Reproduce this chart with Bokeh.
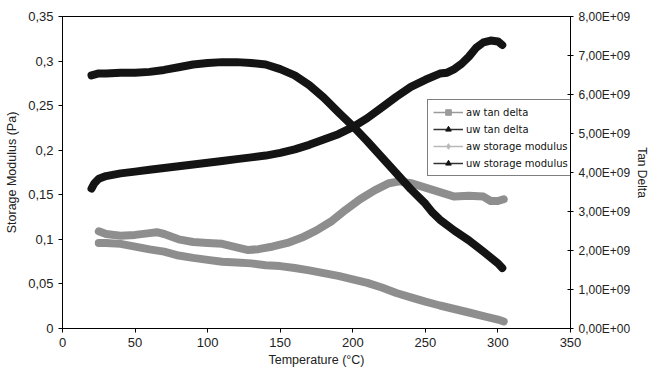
from bokeh.plotting import figure
from bokeh.models import Range1d, LinearAxis, FixedTicker, Legend, LegendItem
from bokeh.embed import file_html
from bokeh.resources import INLINE

# ---------------- data ----------------
# aw tan delta (left axis)
aw_td_T = [25, 30, 40, 50, 60, 65, 70, 80, 90, 100, 110, 120, 128, 135, 145, 155, 165,
           175, 185, 195, 205, 215, 225, 232, 240, 250, 260, 270, 280, 290, 295, 300, 304]
aw_td = [0.109, 0.106, 0.104, 0.105, 0.107, 0.108, 0.106, 0.100, 0.097, 0.096, 0.095, 0.091,
         0.088, 0.089, 0.092, 0.096, 0.102, 0.110, 0.120, 0.133, 0.145, 0.155, 0.163, 0.165,
         0.163, 0.158, 0.153, 0.148, 0.149, 0.148, 0.143, 0.143, 0.145]

# uw tan delta (left axis)
uw_td_T = [20, 22, 25, 30, 40, 50, 60, 70, 80, 90, 100, 110, 120, 130, 140, 150, 160, 170,
           180, 190, 200, 210, 220, 230, 240, 250, 260, 265, 270, 275, 280, 285, 290, 295,
           300, 303]
uw_td = [0.157, 0.163, 0.168, 0.171, 0.174, 0.176, 0.178, 0.180, 0.182, 0.184, 0.186, 0.188,
         0.190, 0.192, 0.194, 0.197, 0.201, 0.206, 0.212, 0.218, 0.226, 0.236, 0.248, 0.260,
         0.271, 0.279, 0.286, 0.287, 0.291, 0.297, 0.305, 0.315, 0.321, 0.323, 0.322, 0.318]

# aw storage modulus (right axis)
aw_sm_T = [25, 30, 40, 50, 60, 70, 80, 90, 100, 110, 120, 130, 140, 150, 160, 170, 180, 190,
           200, 210, 220, 230, 240, 250, 260, 270, 280, 290, 300, 304]
aw_sm = [2.19e9, 2.19e9, 2.17e9, 2.10e9, 2.03e9, 1.97e9, 1.87e9, 1.81e9, 1.76e9, 1.71e9,
         1.69e9, 1.67e9, 1.62e9, 1.60e9, 1.55e9, 1.49e9, 1.42e9, 1.35e9, 1.26e9, 1.17e9,
         1.05e9, 0.91e9, 0.80e9, 0.69e9, 0.59e9, 0.50e9, 0.41e9, 0.32e9, 0.23e9, 0.18e9]

# uw storage modulus (right axis)
uw_sm_T = [20, 25, 30, 40, 50, 60, 70, 80, 90, 100, 110, 120, 130, 140, 150, 160, 170, 180,
           190, 200, 210, 220, 230, 240, 250, 255, 260, 270, 280, 290, 300, 303]
uw_sm = [6.49e9, 6.54e9, 6.54e9, 6.56e9, 6.56e9, 6.58e9, 6.63e9, 6.70e9, 6.77e9, 6.81e9,
         6.83e9, 6.83e9, 6.81e9, 6.77e9, 6.65e9, 6.49e9, 6.24e9, 5.92e9, 5.55e9, 5.19e9,
         4.80e9, 4.39e9, 3.98e9, 3.57e9, 3.20e9, 2.97e9, 2.79e9, 2.51e9, 2.26e9, 1.97e9,
         1.67e9, 1.55e9]

x_ticks = [0, 50, 100, 150, 200, 250, 300, 350]
left_ticks = [0, 0.05, 0.1, 0.15, 0.2, 0.25, 0.3, 0.35]
left_labels = ["0", "0,05", "0,1", "0,15", "0,2", "0,25", "0,3", "0,35"]
right_ticks = [0, 1e9, 2e9, 3e9, 4e9, 5e9, 6e9, 7e9, 8e9]
right_labels = ["0,00E+00", "1,00E+09", "2,00E+09", "3,00E+09", "4,00E+09",
                "5,00E+09", "6,00E+09", "7,00E+09", "8,00E+09"]
series_names = ["aw tan delta", "uw tan delta", "aw storage modulus", "uw storage modulus"]

# ---------------- figure ----------------
FONT = "Liberation Sans"
GRAY = "#8e8e8e"
BLACK = "#141414"

p = figure(width=652, height=369, x_range=Range1d(0, 350), y_range=Range1d(0, 0.35),
           output_backend="svg", toolbar_location=None,
           min_border_left=62, min_border_right=76, min_border_top=16, min_border_bottom=39)
p.extra_y_ranges = {"sm": Range1d(0, 8e9)}
p.grid.visible = False
p.outline_line_color = "black"
p.outline_line_width = 1
p.background_fill_color = "white"
p.border_fill_color = "white"

def style_axis(ax, size="13px"):
    ax.axis_line_color = "black"
    ax.major_tick_line_color = "black"
    ax.minor_tick_line_color = None
    ax.major_label_text_font = FONT
    ax.major_label_text_font_size = size
    ax.major_label_text_color = "#222222"
    ax.axis_label_text_font = FONT
    ax.axis_label_text_font_size = "12.5px"
    ax.axis_label_text_font_style = "normal"
    ax.axis_label_text_color = "#222222"

xa = p.xaxis[0]
style_axis(xa)
xa.ticker = FixedTicker(ticks=x_ticks)
xa.axis_label = "Temperature (°C)"
xa.major_tick_out = 4
xa.major_tick_in = 0
xa.major_label_standoff = 5
xa.axis_label_standoff = 3

ya = p.yaxis[0]
style_axis(ya)
ya.ticker = FixedTicker(ticks=left_ticks)
ya.major_label_overrides = dict(zip(left_ticks, left_labels))
ya.axis_label = "Storage Modulus (Pa)"
ya.major_tick_out = 4
ya.major_tick_in = 0
ya.major_label_standoff = 5
ya.axis_label_standoff = 6

ra = LinearAxis(y_range_name="sm", ticker=FixedTicker(ticks=right_ticks),
                major_label_overrides=dict(zip(right_ticks, right_labels)),
                axis_label="Tan Delta")
style_axis(ra, "12px")
ra.axis_label_text_font_size = "12px"
ra.major_tick_out = 3
ra.major_tick_in = 3
ra.major_label_standoff = 5
ra.axis_label_standoff = 2
p.add_layout(ra, "right")

# ---------------- data bands ----------------
lw = 8
p.line(aw_td_T, aw_td, line_color=GRAY, line_width=lw, line_cap="round", line_join="round")
p.line(aw_sm_T, aw_sm, y_range_name="sm", line_color=GRAY, line_width=lw,
       line_cap="round", line_join="round")
p.line(uw_td_T, uw_td, line_color=BLACK, line_width=lw, line_cap="round", line_join="round")
p.line(uw_sm_T, uw_sm, y_range_name="sm", line_color=BLACK, line_width=lw,
       line_cap="round", line_join="round")

# ---------------- legend (proxy glyphs placed outside the visible ranges) ----------------
def legend_glyphs(lcolor, marker, mcolor, size):
    l = p.line(x=[-100, -90], y=[-1, -1], line_color=lcolor, line_width=1.5)
    s = p.scatter(x=[-100], y=[-1], marker=marker, size=size, fill_color=mcolor, line_color=mcolor)
    return [l, s]

styles = [("#9a9a9a", "square", "#9a9a9a", 7),
          ("#333333", "triangle", BLACK, 8),
          ("#b8b8b8", "diamond", "#b8b8b8", 8),
          ("#333333", "triangle", BLACK, 8)]
items = [LegendItem(label=name, renderers=legend_glyphs(*st))
         for name, st in zip(series_names, styles)]
leg = Legend(items=items, location=(365, 152))
leg.label_text_font = "DejaVu Sans"
leg.label_text_font_size = "10px"
leg.label_text_color = "#111111"
leg.label_height = 14
leg.glyph_height = 14
leg.glyph_width = 30
leg.label_standoff = 3
leg.spacing = 3
leg.padding = 5
leg.margin = 0
leg.border_line_color = "black"
leg.border_line_width = 1
leg.background_fill_color = "white"
leg.background_fill_alpha = 1
p.add_layout(leg)

open("out.html", "w").write(file_html(p, INLINE))
